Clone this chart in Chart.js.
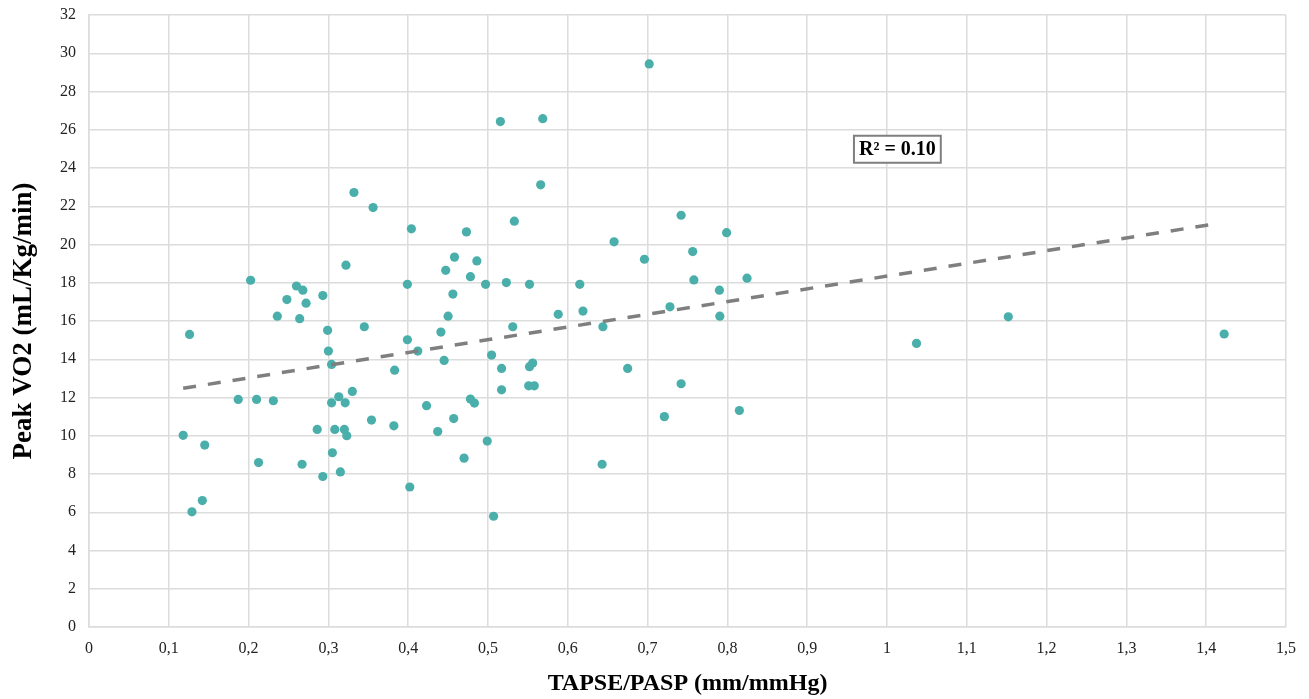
<!DOCTYPE html>
<html>
<head>
<meta charset="utf-8">
<script src="https://cdn.jsdelivr.net/npm/chart.js@4"></script>
<style>
  html, body { margin: 0; padding: 0; background: #ffffff; }
  #wrap { width: 1309px; height: 699px; }
</style>
</head>
<body>
<div id="wrap"><canvas id="c" width="1309" height="699"></canvas></div>
<script>
// ---- Data ----
const tapsePasp = [
  0.332, 0.356, 0.322, 0.2025, 0.260, 0.268, 0.248, 0.272, 0.293, 0.236,
  0.264, 0.299, 0.345, 0.126, 0.300, 0.304, 0.330, 0.313, 0.304, 0.321,
  0.187, 0.210, 0.231, 0.354, 0.286, 0.308, 0.320, 0.323, 0.118, 0.145,
  0.305, 0.2125, 0.267, 0.315, 0.293, 0.142, 0.129,
  0.566, 0.404, 0.473, 0.533, 0.658, 0.696, 0.458, 0.486, 0.447, 0.478,
  0.399, 0.497, 0.523, 0.552, 0.615, 0.456, 0.450, 0.588, 0.619, 0.531,
  0.644, 0.728, 0.441, 0.399, 0.412, 0.445, 0.5045, 0.383, 0.517, 0.552,
  0.556, 0.675, 0.517, 0.551, 0.558, 0.478, 0.483, 0.423, 0.721, 0.382,
  0.457, 0.437, 0.499, 0.470, 0.643, 0.402, 0.507,
  0.5155, 0.5686, 0.702,
  0.742, 0.799, 0.7565, 0.758, 0.8246, 0.790, 0.7905, 0.742, 0.815,
  1.037, 1.152, 1.4225
];
const peakVO2 = [
  22.72, 21.93, 18.92, 18.13, 17.83, 17.61, 17.12, 16.93, 17.33, 16.25,
  16.12, 15.51, 15.70, 15.30, 14.43, 13.73, 12.32, 12.04, 11.72, 11.72,
  11.90, 11.90, 11.83, 10.82, 10.33, 10.33, 10.33, 10.00, 10.02, 9.51,
  9.11, 8.60, 8.51, 8.11, 7.87, 6.61, 6.02,
  23.12, 20.82, 20.66, 21.22, 20.14, 19.23, 19.34, 19.14, 18.65, 18.32,
  17.92, 17.92, 18.01, 17.92, 17.92, 17.41, 16.25, 16.35, 16.52, 15.70,
  15.70, 16.74, 15.42, 15.02, 14.43, 13.94, 14.22, 13.43, 13.52, 13.61,
  13.80, 13.52, 12.40, 12.61, 12.61, 11.92, 11.71, 11.57, 11.00, 10.52,
  10.90, 10.22, 9.72, 8.83, 8.51, 7.32, 5.79,
  26.43, 26.58, 29.44,
  21.53, 20.62, 19.63, 18.15, 18.24, 17.61, 16.25, 12.72, 11.32,
  14.83, 16.22, 15.32
];
// Linear trendline end points (as drawn in the reference)
const trendX = [0.118, 1.408];
const trendY = [12.48, 21.06];
// Axis tick labels
const xTickLabels = ['0','0,1','0,2','0,3','0,4','0,5','0,6','0,7','0,8','0,9','1','1,1','1,2','1,3','1,4','1,5'];
const yTickLabels = ['0','2','4','6','8','10','12','14','16','18','20','22','24','26','28','30','32'];
const r2Label = 'R² = 0.10';
const r2Anchor = [1.013, 24.98];
const xTitle = 'TAPSE/PASP (mm/mmHg)';
const yTitle = 'Peak VO2 (mL/Kg/min)';

const SERIF = '"Liberation Serif", "Times New Roman", "DejaVu Serif", serif';
const GRID = '#dcdcdc';

const points = tapsePasp.map((x, i) => ({ x: x, y: peakVO2[i] }));
const trend = trendX.map((x, i) => ({ x: x, y: trendY[i] }));

const r2Plugin = {
  id: 'r2box',
  afterDatasetsDraw(chart) {
    const ctx = chart.ctx;
    const xs = chart.scales.x, ys = chart.scales.y;
    const cx = xs.getPixelForValue(r2Anchor[0]);
    const cy = ys.getPixelForValue(r2Anchor[1]);
    ctx.save();
    ctx.font = 'bold 20px ' + SERIF;
    const w = ctx.measureText(r2Label).width + 10;
    const h = 27;
    ctx.fillStyle = '#ffffff';
    ctx.fillRect(cx - w / 2, cy - h / 2, w, h);
    ctx.lineWidth = 2;
    ctx.strokeStyle = '#7f7f7f';
    ctx.strokeRect(cx - w / 2, cy - h / 2, w, h);
    ctx.fillStyle = '#000000';
    ctx.textAlign = 'center';
    ctx.textBaseline = 'middle';
    ctx.fillText(r2Label, cx, cy + 1);
    ctx.restore();
  }
};

new Chart(document.getElementById('c'), {
  type: 'scatter',
  data: {
    datasets: [
      {
        label: 'Trend',
        data: trend,
        showLine: true,
        borderColor: '#7f7f7f',
        borderWidth: 3.5,
        borderDash: [13, 12],
        pointRadius: 0,
        fill: false,
        order: 0
      },
      {
        label: 'Peak VO2',
        data: points,
        backgroundColor: '#4aafaa',
        borderColor: '#4aafaa',
        borderWidth: 0,
        pointRadius: 4.6,
        order: 1
      }
    ]
  },
  options: {
    responsive: false,
    animation: false,
    devicePixelRatio: 1,
    layout: { padding: { left: 0, right: 23, top: 15, bottom: 0 } },
    plugins: {
      legend: { display: false },
      tooltip: { enabled: false }
    },
    scales: {
      x: {
        type: 'linear',
        min: 0, max: 1.5,
        afterFit(scale) { scale.height = 72; },
        afterBuildTicks(scale) {
          scale.ticks = xTickLabels.map((_, i) => ({ value: i / 10 }));
        },
        ticks: {
          callback: (v, i) => xTickLabels[i],
          color: '#222222',
          font: { family: SERIF, size: 16 },
          padding: 12,
          maxRotation: 0,
          autoSkip: false
        },
        grid: { color: GRID, lineWidth: 1.5, drawTicks: false },
        border: { color: GRID, width: 1.5 },
        title: {
          display: true,
          text: xTitle,
          color: '#000000',
          font: { family: SERIF, size: 24, weight: 'bold' },
          padding: { top: 0, bottom: 1 }
        }
      },
      y: {
        type: 'linear',
        min: 0, max: 32,
        afterFit(scale) { scale.width = 89; scale.paddingTop = 0; scale.paddingBottom = 0; },
        afterBuildTicks(scale) {
          scale.ticks = yTickLabels.map((_, i) => ({ value: i * 2 }));
        },
        ticks: {
          callback: (v, i) => yTickLabels[i],
          color: '#222222',
          font: { family: SERIF, size: 16 },
          padding: 13,
          autoSkip: false
        },
        grid: { color: GRID, lineWidth: 1.5, drawTicks: false },
        border: { color: GRID, width: 1.5 },
        title: {
          display: true,
          text: yTitle,
          color: '#000000',
          font: { family: SERIF, size: 27, weight: 'bold' },
          padding: { top: 8, bottom: 0 }
        }
      }
    }
  },
  plugins: [r2Plugin]
});
</script>
</body>
</html>
